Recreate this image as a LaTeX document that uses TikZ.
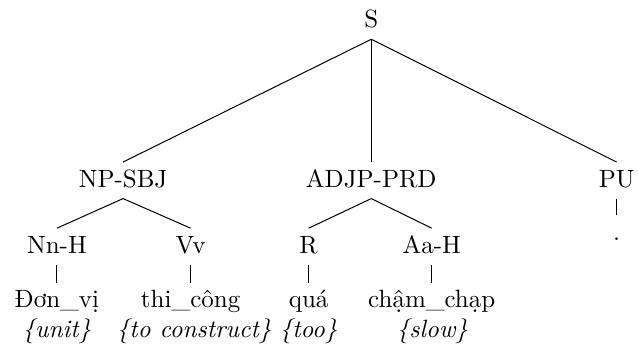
\documentclass[tikz,border=0pt]{standalone}
\usepackage{fontspec}
\usepackage{tikz}
\usetikzlibrary{positioning}

\begin{document}
\begin{tikzpicture}[x=1cm,y=1cm]
  \tikzset{
    tag/.style={anchor=base,inner sep=.3333em,text height=1.5ex,text depth=.25ex},
    gloss/.style={anchor=base,inner sep=.3333em,font=\itshape},
    edge/.style={draw=black,line width=0.4pt}
  }
  \useasboundingbox (0,0) rectangle (8.97,-4.95);
  % phrase levels
  \node[tag] (s) at (5.22,-0.39) {S};
  \node[tag] (npsbj) at (1.73,-2.63) {NP-SBJ};
  \node[tag] (adjp) at (5.22,-2.63) {ADJP-PRD};
  \node[tag] (pu) at (8.67,-2.63) {PU};
  % pos tags
  \node[tag] (nnh) at (0.80,-3.56) {Nn-H};
  \node[tag] (vv) at (2.68,-3.56) {Vv};
  \node[tag] (r) at (4.34,-3.56) {R};
  \node[tag] (aah) at (6.07,-3.56) {Aa-H};
  \node[tag] (dot) at (8.67,-3.38) {.};
  % words and glosses
  \node[tag] (w1) at (0.80,-4.33) {Đơn\_vị};
  \node[tag] (w2) at (2.68,-4.33) {thi\_công};
  \node[tag] (w3) at (4.34,-4.33) {quá};
  \node[tag] (w4) at (6.07,-4.33) {chậm\_chạp};
  \node[gloss] (g1) at (0.80,-4.74) {\{unit\}};
  \node[gloss] (g2) at (2.73,-4.74) {\{to construct\}};
  \node[gloss] (g3) at (4.34,-4.74) {\{too\}};
  \node[gloss] (g4) at (6.08,-4.74) {\{slow\}};
  \draw[edge] (s.south) -- (npsbj.north);
  \draw[edge] (s.south) -- (adjp.north);
  \draw[edge] (s.south) -- (pu.north);
  \draw[edge] (npsbj.south) -- (nnh.north);
  \draw[edge] (npsbj.south) -- (vv.north);
  \draw[edge] (adjp.south) -- (r.north);
  \draw[edge] (adjp.south) -- (aah.north);
  \draw[edge] (pu.south) -- (dot.north);
  \draw[edge] (nnh.south) -- (w1.north);
  \draw[edge] (vv.south) -- (w2.north);
  \draw[edge] (r.south) -- (w3.north);
  \draw[edge] (aah.south) -- (w4.north);
\end{tikzpicture}
\end{document}
